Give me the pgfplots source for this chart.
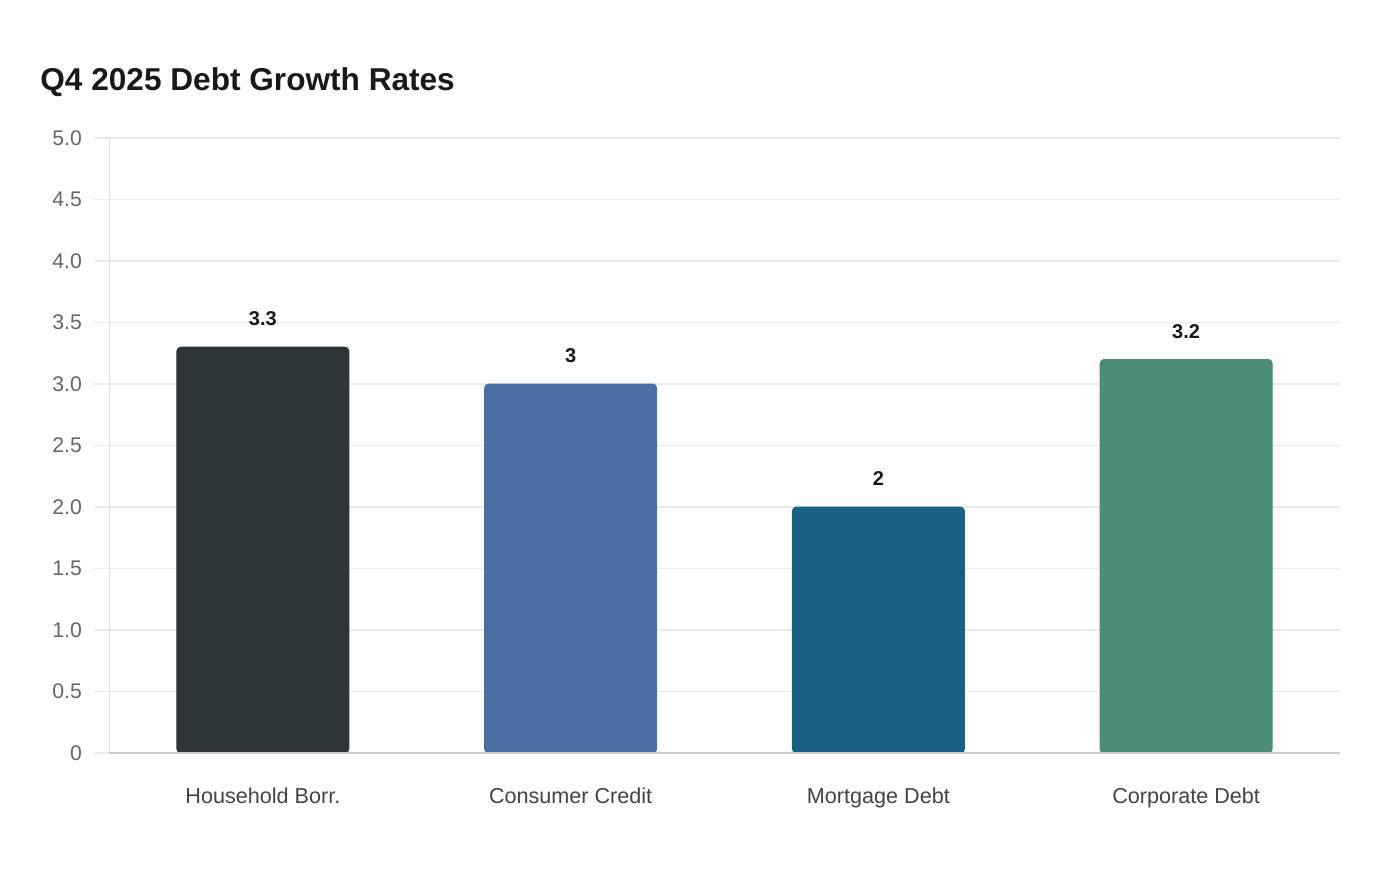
\documentclass[border=0pt]{standalone}
\usepackage{pgfplots}
\pgfplotsset{compat=1.18}
\usepackage{fontspec}
\setmainfont{Liberation Sans}
\definecolor{barA}{HTML}{2E3537}
\definecolor{barB}{HTML}{4A6FA3}
\definecolor{barC}{HTML}{186185}
\definecolor{barD}{HTML}{4E8C7A}
\definecolor{gridc}{HTML}{EBEBEB}
\definecolor{ticklab}{HTML}{666666}
\definecolor{catlab}{HTML}{444444}
\begin{document}
\begin{tikzpicture}
% page frame, 1400x880 px at 0.5pt per px
\fill[white] (0,0) rectangle (700pt,440pt);
\node[anchor=base west, font=\fontsize{15.8}{18}\selectfont\bfseries, text=black!90, inner sep=0pt]
  at (20pt,394.5pt) {Q4 2025 Debt Growth Rates};
\begin{axis}[
    at={(54.5pt,63.5pt)}, anchor=south west,
    scale only axis,
    width=615.5pt, height=307.5pt,
    xmin=-0.5, xmax=3.5,
    ymin=0, ymax=5,
    ytick={0,0.5,1,1.5,2,2.5,3,3.5,4,4.5,5},
    yticklabels={0,0.5,1.0,1.5,2.0,2.5,3.0,3.5,4.0,4.5,5.0},
    xtick={0,1,2,3},
    xticklabels={Household Borr., Consumer Credit, Mortgage Debt, Corporate Debt},
    axis line style={draw=none},
    ymajorgrids=true,
    major grid style={color=gridc, line width=0.9pt},
    tick align=outside,
    ytick pos=left,
    major tick length=7.5pt,
    y tick style={color=gridc, line width=0.9pt},
    x tick style={draw=none},
    yticklabel style={font=\fontsize{10.6}{12}\selectfont, text=ticklab, xshift=-2.5pt},
    xticklabel style={font=\fontsize{10.8}{13}\selectfont, text=catlab, yshift=-6.5pt},
    /pgf/number format/assume math mode=true,
    ybar, bar width=86pt, bar shift=0pt,
    nodes near coords,
    every node near coord/.append style={font=\fontsize{10}{12}\selectfont\bfseries, text=black!90, yshift=7pt},
]
\addplot[fill=barA, draw=barA, rounded corners=2pt] coordinates {(0,3.3)};
\addplot[fill=barB, draw=barB, rounded corners=2pt] coordinates {(1,3.0)};
\addplot[fill=barC, draw=barC, rounded corners=2pt] coordinates {(2,2.0)};
\addplot[fill=barD, draw=barD, rounded corners=2pt] coordinates {(3,3.2)};
\draw[color=black!12, line width=0.5pt] (rel axis cs:0,0) -- (rel axis cs:0,1);
\draw[color=black!20, line width=1pt] (rel axis cs:0,0) -- (rel axis cs:1,0);
\end{axis}
\end{tikzpicture}
\end{document}
